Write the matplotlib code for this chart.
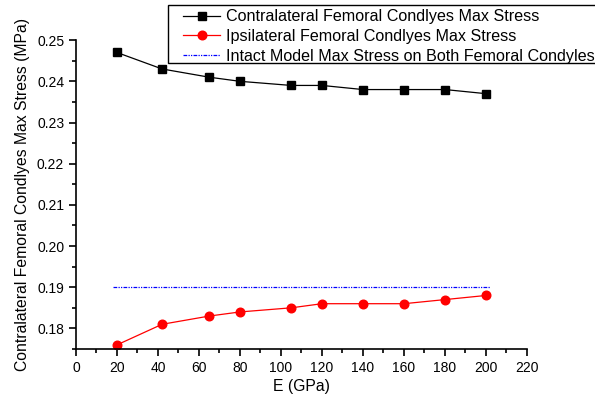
import matplotlib
matplotlib.use('Agg')
import matplotlib.pyplot as plt
from matplotlib.ticker import MultipleLocator
from matplotlib.patches import Rectangle

plt.rcParams['font.family'] = ['Liberation Sans', 'DejaVu Sans']

modulus = [20, 42, 65, 80, 105, 120, 140, 160, 180, 200]
contra = [0.247, 0.243, 0.241, 0.240, 0.239, 0.239, 0.238, 0.238, 0.238, 0.237]
ipsi = [0.176, 0.181, 0.183, 0.184, 0.185, 0.186, 0.186, 0.186, 0.187, 0.188]
intact_x = [18, 202]
intact = [0.19, 0.19]

fig = plt.figure(figsize=(5.95, 3.97), dpi=100)
ax = fig.add_axes([0.1277, 0.1209, 0.758, 0.778])

ax.plot(modulus, contra, color='black', lw=0.9, marker='s', ms=5.4,
        label='Contralateral Femoral Condlyes Max Stress')
ax.plot(modulus, ipsi, color='red', lw=0.9, marker='o', ms=6.2,
        label='Ipsilateral Femoral Condlyes Max Stress')
ax.plot(intact_x, intact, color='blue', lw=0.9, ls=(0, (3, 1, 1, 1, 1, 1)),
        label='Intact Model Max Stress on Both Femoral Condyles')

ax.set_xlim(0, 220)
ax.set_ylim(0.175, 0.25)
ax.xaxis.set_major_locator(MultipleLocator(20))
ax.xaxis.set_minor_locator(MultipleLocator(10))
ax.yaxis.set_major_locator(MultipleLocator(0.01))
ax.yaxis.set_minor_locator(MultipleLocator(0.005))
ax.yaxis.set_major_formatter(matplotlib.ticker.FormatStrFormatter('%.2f'))

for s in ['top', 'right']:
    ax.spines[s].set_visible(False)
for s in ['left', 'bottom']:
    ax.spines[s].set_linewidth(1.2)
ax.tick_params(which='major', direction='out', length=5, width=1.2, labelsize=10)
ax.tick_params(which='minor', direction='out', length=3, width=1.2)

ax.set_xlabel('E (GPa)', fontsize=11.3, labelpad=3)
ax.set_ylabel('Contralateral Femoral Condlyes Max Stress (MPa)', fontsize=11.3, labelpad=5)

# legend box drawn by hand so it can run past the right edge
box = Rectangle((168 / 595, 1 - 63 / 397), 0.8, 58 / 397, transform=fig.transFigure,
                facecolor='white', edgecolor='black', lw=1.0, zorder=5)
fig.patches.append(box)

leg = fig.legend(loc='upper left', bbox_to_anchor=(183 / 595, 1 - 9.5 / 397),
                 fontsize=11.6, frameon=False, borderpad=0,
                 labelspacing=0.28, handlelength=2.3, handletextpad=0.35,
                 borderaxespad=0)
leg.set_zorder(6)

fig.savefig('out.png', dpi=100)
